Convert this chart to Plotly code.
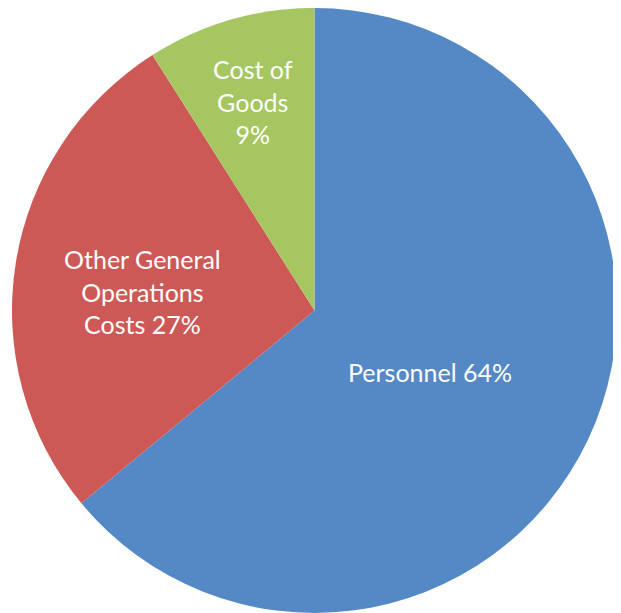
import plotly.graph_objects as go

# the page body has an 8px default margin, so the figure is drawn 8px smaller
OFF = 8
W, H = 621 - OFF, 613 - OFF

categories = ["Personnel", "Other General Operations Costs", "Cost of Goods"]
values = [64, 27, 9]
colors = ["#5589C6", "#CD5957", "#A5C661"]
label_texts = ["Personnel 64%", "Other General<br>Operations<br>Costs 27%", "Cost of<br>Goods<br>9%"]
# label centers in page pixels (x, y)
label_pos = [(430, 372), (142, 291), (253, 101)]

fig = go.Figure(go.Pie(
    labels=categories,
    values=values,
    sort=False,
    direction="clockwise",
    rotation=0,
    marker=dict(colors=colors, line=dict(width=0)),
    textinfo="none",
    hoverinfo="label+percent",
    domain=dict(x=[(10 - OFF) / W, (619 - OFF) / W], y=[0, 1]),
    showlegend=False,
))

for txt, (px, py) in zip(label_texts, label_pos):
    fig.add_annotation(
        x=(px - OFF) / W, y=1 - (py - OFF) / H, xref="paper", yref="paper",
        text=txt, showarrow=False, xanchor="center", yanchor="middle",
        font=dict(family="Lato", size=25, color="white"),
    )

fig.update_layout(
    width=W, height=H,
    margin=dict(l=0, r=0, t=0, b=0),
    paper_bgcolor="white",
    plot_bgcolor="white",
)

fig.write_html("out.html")
